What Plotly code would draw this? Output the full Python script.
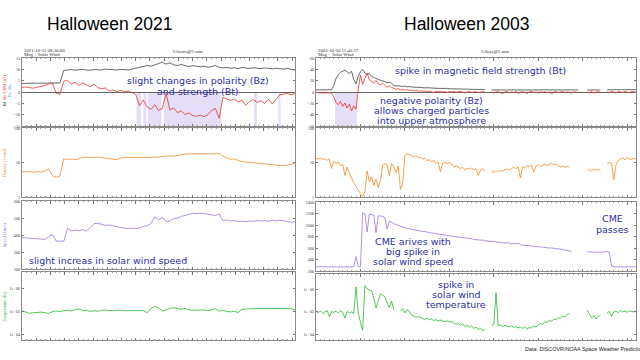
import plotly.graph_objects as go
import numpy as np

W, H = 640, 360

# ---------------- Halloween 2021 (minutes after 2021-10-31 08:30, 5-min samples)
bt_2021 = [3.9, 3.9, 3.8, 3.9, 4.0, 3.9, 3.8, 3.9, 4.0, 4.0, 4.1,
           9.6, 9.8, 10.0, 9.7, 9.9, 10.1, 9.8, 9.7, 10.0, 9.9, 9.8, 10.2, 10.0, 9.9, 9.8,
           10.1, 10.0, 9.8, 10.2, 10.6, 10.9, 11.3, 11.8, 11.5, 12.0, 12.6, 13.2, 12.4, 12.9,
           12.1, 11.8, 12.2, 11.6, 11.3, 11.7, 11.4, 11.2, 11.5, 11.0, 11.3, 11.8, 11.0, 10.7,
           10.9, 10.6, 10.8, 10.4, 10.9, 10.6, 10.5, 10.8, 10.6, 10.4, 10.7, 10.5, 10.3, 10.6,
           10.4, 10.2, 10.5, 10.1, 9.7]
bz_2021 = [2.1, 2.3, 2.0, 1.8, 2.2, 2.4, 2.9, 3.6, 4.2, -0.5, -0.9, 4.8, 5.2, 3.6, 4.4,
           3.0, 4.1, 3.3, 2.4, 3.5, 2.0, 1.5, 1.9, 0.6, 1.0, 0.2, 0.8, 0.3, 0.5, -0.2, -1.0,
           -5.8, -3.5, -6.4, -7.6, -5.5, -8.0, -7.2, -0.5, -7.8, -6.9, -9.0, -8.2, -9.8, -9.1,
           -10.3, -10.6, -10.1, -10.8, -9.9, -8.0, -7.1, -11.5, -2.3, -2.8, -3.6, -3.0, -4.2,
           -3.5, -5.8, -4.0, -3.2, -4.5, -3.8, -4.9, -3.1, -5.2, -3.4, -1.2, -0.8, -0.5, -1.1, -0.6]
dens_2021 = [5.5, 5.4, 5.6, 5.3, 5.5, 5.4, 5.6, 6.6, 4.2, 3.8, 4.1, 12.9, 12.5, 12.8, 12.4,
             12.9, 14.4, 14.2, 14.5, 14.3, 14.6, 14.2, 13.9, 13.2, 12.5, 12.2, 13.8, 14.1,
             14.3, 14.0, 14.4, 14.2, 14.5, 14.1, 14.6, 14.3, 14.8, 15.2, 15.6, 15.9, 15.4,
             16.3, 17.2, 17.8, 18.1, 17.9, 18.3, 17.8, 18.0, 18.2, 17.9, 18.1, 19.0, 15.2,
             13.8, 12.6, 12.9, 11.5, 10.8, 10.5, 10.2, 9.9, 9.6, 9.4, 9.1, 8.9, 8.6, 8.3, 8.4,
             8.2, 8.5, 9.2, 9.8]
speed_2021 = [386, 384, 381, 380, 378, 377, 375, 392, 405, 366, 363, 364, 440, 425, 430,
              428, 433, 425, 445, 468, 470, 462, 458, 460, 455, 450, 444, 441, 440, 442, 438,
              442, 452, 455, 468, 508, 490, 506, 480, 484, 498, 501, 510, 517, 524, 529, 526,
              530, 527, 523, 518, 516, 525, 486, 490, 484, 486, 481, 483, 479, 485, 481, 487,
              483, 486, 482, 488, 484, 489, 486, 480, 476, 479]
temp_2021 = [102000, 88000, 80000, 84000, 86000, 90000, 85000, 78000, 94000, 100000, 96000,
             104000, 110000, 98000, 115000, 124000, 104000, 108000, 96000, 102000, 98000,
             106000, 112000, 104000, 108000, 113000, 110000, 104000, 103000, 105000, 102000,
             106000, 104000, 85000, 128000, 160000, 138000, 98000, 115000, 130000, 140000,
             126000, 118000, 132000, 112000, 108000, 110000, 106000, 112000, 104000, 110000,
             128000, 100000, 107000, 95000, 92000, 98000, 86000, 118000, 122000, 127000,
             128000, 127000, 129000, 128000, 129000, 128000, 127000, 129000, 128000, 130000,
             126000, 112000]
neg_bz_2021 = [(151, 157), (160, 164), (166, 184), (187, 263), (306, 310), (338, 341)]

# ---------------- Halloween 2003 (hours after 2003-10-30 11:41, 0.5-h samples)
bt_2003 = [4.2, 4.0, 4.3, 4.1, 4.4, 4.2, 4.5, 4.3,
           12, 24, 31, 35,
           37, 39, 36, 33, 37,
           22, 15, 28,
           36, 40, 34,
           31, 33,
           28, 26, 24, 22, 21, 20,
           18, 17, 17.5, 16,
           12, 11, 11.5, 10.5, 10, 10.8, 9.5, 9.8, 9.2, 9.0, 8.6, 8.8, 8.2,
           7.8, 7.6, 7.9, 7.4, 7.2, 7.5, 7.0, 6.8, 7.1, 6.6, 6.4, 6.7, 6.2, 6.0, 6.3, 5.8,
           5.6, 5.9, 5.4, 5.3, 5.5, 5.1, 5.0, 5.2, 4.9, 4.8, 5.0, 4.7, 4.6,
           None, None,
           4.1, 4.3, 3.9, 4.2, 4.0, 4.4, 4.1, 3.8, 4.2, 4.0, 4.3, 3.9, 4.1, 4.2, 4.0, 3.8,
           4.1, 4.3, 4.0, 3.9, 4.2, 4.1, 3.9, 4.0, 4.2, 4.4, 4.1, 3.9, 4.0, 4.2, 4.3, 4.1,
           3.8, 4.0, 4.2, 4.1, 3.9, 4.0, 4.3, 4.1,
           None, None, None,
           4.0, 4.2, 4.4, 4.1, 3.9, 4.2, 4.0,
           None, None,
           4.3, 4.5, 4.2, 4.6, 4.4, 4.7, 4.5, 4.3, 4.6, 4.8, 4.5, 4.4, 4.6, 4.5]
bz_2003 = [-0.5, -1.0, -0.8, -1.5, -1.2, -0.6, -1.0, -2.0,
           -8, -18, -22, -16,
           -25, -19, -28, -21, -33,
           -24, -30, 5,
           30, 14, 24,
           34, 22,
           19, 16, 21, 15, 13, 16,
           12, 9, 11, 8,
           7, 5, 6.5, 4, 5.5, 3.5, 4.5, 2.8, 3.6, 2.2, 3.2, 1.8, 2.6,
           1.5, 2.4, 0.8, 1.9, 1.2, -0.5, 1.6, 0.9, 2.0, 0.5, 1.4, -0.8, 1.1, 0.6, 1.8, -0.3,
           0.9, 1.5, 0.2, -1.2, 0.8, 1.3, -0.4, 0.6, 1.0, -0.9, 0.4, 1.2, -0.2,
           None, None,
           0.8, -1.5, 0.5, 1.2, -0.8, -2.5, 0.4, 1.0, -1.2, 0.6, -0.4, 1.1, -1.8, 0.3, 0.9,
           -0.6, -2.2, 0.7, 1.3, -0.5, 0.2, -1.4, 0.8, -0.3, 1.0, -1.1, 0.5, -2.8, 0.3, 0.9,
           -0.7, 0.4, 1.2, -1.0, 0.6, -0.2, -1.6, 0.8, 0.3, -0.5,
           None, None, None,
           0.5, -0.8, 1.2, -1.5, 0.4, 0.9, -0.3,
           None, None,
           1.0, -0.6, 1.5, 0.8, -1.2, 1.3, 0.4, -0.5, 1.1, 0.7, -0.9, 1.4, 0.6, 0.2]
dens_2003 = [13.5, 12.8, 13.9, 12.4, 13.2, 11.8, 12.6, 6.8,
             11.0, 9.5, 10.6, 8.2,
             9.0, 4.3, 7.5, 5.0, 3.6,
             2.6, 2.0, 1.6,
             1.3, 1.05, 1.4,
             5.8, 2.8,
             3.9, 2.2, 3.4, 1.9, 3.0, 8.5,
             9.4, 8.8, 4.2, 9.6,
             7.8, 5.2, 8.0, 1.7, 2.4, 16.5, 18.2, 17.0, 15.4, 14.8, 15.6, 13.9, 14.5,
             12.8, 13.5, 11.6, 12.2, 10.9, 11.5, 9.6, 10.4, 5.4, 9.8, 10.2, 9.5, 10.0, 9.2,
             7.6, 8.1, 7.2, 6.8, 7.4, 6.2, 6.9, 6.5, 7.0, 6.3, 6.7, 4.3, 6.1, 6.6, 5.9,
             None, None,
             5.6, 5.3, 5.8, 5.5, 6.0, 5.7, 6.2, 6.6, 6.1, 6.9, 7.3, 6.8, 7.5, 3.6, 7.8, 7.1,
             8.2, 7.6, 8.4, 5.4, 8.0, 8.8, 7.7, 8.5, 9.2, 8.3, 8.9, 9.6, 8.7, 9.3, 8.1, 7.6,
             8.4, 7.2, 7.9, 7.4,
             None, None, None, None,
             None, None, None,
             6.0, 6.3, 5.8, 6.5, 6.1, 6.4, 5.9,
             None, None,
             9.5, 10.2, 9.8, 3.2, 8.6, 11.5, 12.8, 13.6, 12.2, 14.1, 13.0, 12.4, 13.5, 12.9]
speed_2003 = [275, 278, 272, 276, 280, 274, 277, 273, 279, 276, 271, 275, 278, 274, 277,
              273, 276, 280,
              455,
              280, 276,
              1215, 1205, 880, 1190, 1180,
              1175, 870, 1165, 1160, 1152, 1130, 930,
              1070, 1045, 1030, 1012, 995, 980, 968, 955, 945, 935, 928, 920, 912, 905, 898,
              892, 880, 881, 870, 868, 857, 855, 846, 843, 831, 830, 824, 812, 815, 803, 799,
              795, 784, 786, 774, 772, 763, 765, 752, 755, 746, 739, 742, 731, 726, 728, 716,
              719, 710, 703, 706, 697, 690, 694, 684, 680, 683, 672, 690,
              662, 651, 653, 644, 646, 636, 639, 628, 630, 621, 619, 612, 614, 603, 606, 596,
              590, 592, 582, 575, 569, 560, 553, 544,
              None, None, None, None, None, None,
              538, 534, 536, 531, 529, 533, 527, 530, 545, 540, 530,
              290, 278, 274, 276, 272, 275, 273, 277, 274, 276, 272, 275]
temp_2003 = [105000, 92000, 110000, 85000, 98000, 115000, 60000, 102000, 95000, 108000,
             88000, 112000, 97000, 54000, 104000, 90000, 100000, 86000,
             1300000,
             90000, 35000, 15000,
             1500000, 1100000, 950000, 880000,
             420000, 150000, 310000,
             620000, 560000, 480000,
             250000, 160000, 300000, 120000,
             None, None,
             110000, 140000, 90000, 125000, 105000,
             72000, 65000, 58000, 62000, 55000,
             50000, 46000, 52000, 44000, 48000, 41000, 45000, 39000, 43000, 38000, 36000,
             40000, 35000, 37000,
             32000, 28000, 30000, 25000, 29000, 22000, 26000, 20000, 24000, 18000, 21000,
             16000, 19000, 14000, 17000,
             None, None,
             25000, 27000, 720000, 24000, 26000, 22000, 25000, 23000, 21000, 24000, 20000,
             22000, 19000,
             21000, 18000, 22000, 17000, 20000, 19000, 23000, 21000, 26000,
             30000, 28000, 36000, 33000, 42000, 38000, 48000, 45000, 55000, 52000, 64000,
             60000, 78000, 85000,
             None, None, None, None, None, None, None,
             120000, 75000, 55000, 68000, 48000, 62000, 70000,
             None, None,
             90000, 105000, 62000, 98000, 110000, 92000, 115000, 100000, 108000, 95000,
             112000, 104000, 99000, 106000]
neg_bz_2003 = [(4.3, 9.2)]

# ---------------- styling
C_BT = "#2a2a2a"
C_BZ = "#e8352f"
C_DEN = "#f28a24"
C_SPD = "#a074e0"
C_TMP = "#2fb52f"
C_SHADE = "#e6def6"
C_NOTE = "#2e2ea6"
AX = "#8a8a8a"


def px(x):
    return x / W


def py(y):
    return 1 - y / H


col_dom = [[px(22), px(295)], [px(316), px(636)]]
row_px = [[(57, 126), (128, 198), (202, 271), (274, 343)],
          [(57, 126), (128, 198), (203, 273), (276, 343)]]

fig = go.Figure()
layout = dict(width=W, height=H, margin=dict(l=0, r=0, t=0, b=0),
              paper_bgcolor="white", plot_bgcolor="white", showlegend=False)

t21 = np.arange(len(bt_2021)) * 5.0
t03 = np.arange(len(bt_2003)) * 0.5

yspecs = [
    # left column
    dict(range=[-15, 15], tickvals=[-15, -10, -5, 0, 5, 10, 15], type="linear", zero=True),
    dict(range=[0, 2], tickvals=[1, 10, 100], type="log", zero=False),
    dict(range=[200, 600], tickvals=[200, 300, 400, 500, 600], type="linear", zero=False),
    dict(range=[3.73, 6.69], tickvals=[1e4, 1e5, 1e6], ticktext=["1e+04", "1e+05", "1e+06"],
         type="log", zero=False),
    # right column
    dict(range=[-60, 60], tickvals=[-60, -40, -20, 0, 20, 40, 60], type="linear", zero=True),
    dict(range=[0, 2], tickvals=[1, 10, 100], type="log", zero=False),
    dict(range=[200, 1400], tickvals=[200, 400, 600, 800, 1000, 1200, 1400], type="linear", zero=False),
    dict(range=[3.73, 6.69], tickvals=[1e4, 1e5, 1e6], ticktext=["1e+04", "1e+05", "1e+06"],
         type="log", zero=False),
]

for k in range(8):
    col = k // 4
    row = k % 4
    n = k + 1
    xa = "xaxis" if n == 1 else f"xaxis{n}"
    ya = "yaxis" if n == 1 else f"yaxis{n}"
    top, bot = row_px[col][row]
    if col == 0:
        xr, dt, mdt = [0, 360], 18.75, 6.25
    else:
        xr, dt, mdt = [0, 72], 10, 1
    layout[xa] = dict(domain=col_dom[col], anchor=f"y{n}", range=xr, showticklabels=False,
                      ticks="inside", ticklen=2.5, tickwidth=0.6, tickcolor="#777",
                      tick0=0, dtick=dt, mirror="allticks", showline=True, linecolor=AX,
                      linewidth=0.8, showgrid=False, zeroline=False,
                      minor=dict(ticks="inside", ticklen=1.3, dtick=mdt, tickcolor="#999",
                                 tickwidth=0.5, showgrid=False))
    s = yspecs[k]
    yd = dict(domain=[py(bot), py(top)], anchor=f"x{n}", range=s["range"], type=s["type"],
              tickvals=s["tickvals"], ticks="inside", ticklen=2, tickwidth=0.6,
              tickcolor="#777", mirror="allticks", showline=True, linecolor=AX,
              linewidth=0.8, showgrid=False,
              tickfont=dict(family="Liberation Serif", size=4.3, color="#444"),
              zeroline=s["zero"], zerolinecolor="#666", zerolinewidth=0.7)
    if "ticktext" in s:
        yd["ticktext"] = s["ticktext"]
    layout[ya] = yd

# shading for negative Bz
shapes = []
for a, b in neg_bz_2021:
    shapes.append(dict(type="rect", xref="x", yref="y", x0=a, x1=b, y0=-15, y1=0,
                       fillcolor=C_SHADE, line=dict(width=0), layer="below"))
for a, b in neg_bz_2003:
    shapes.append(dict(type="rect", xref="x5", yref="y5", x0=a, x1=b, y0=-60, y1=0,
                       fillcolor=C_SHADE, line=dict(width=0), layer="below"))
layout["shapes"] = shapes


def line(x, y, color, n, w=0.8):
    fig.add_trace(go.Scatter(x=x, y=y, mode="lines", line=dict(color=color, width=w),
                             xaxis=f"x{n}", yaxis=f"y{n}", connectgaps=False,
                             hoverinfo="skip"))


line(t21, bt_2021, C_BT, 1, 0.7)
line(t21, bz_2021, C_BZ, 1)
line(t21, dens_2021, C_DEN, 2)
line(t21, speed_2021, C_SPD, 3)
line(t21, temp_2021, C_TMP, 4)
line(t03, bt_2003, C_BT, 5, 0.7)
line(t03, bz_2003, C_BZ, 5)
line(t03, dens_2003, C_DEN, 6)
line(t03, speed_2003, C_SPD, 7)
line(t03, temp_2003, C_TMP, 8)

ann = []


def text(x, y, s, size, color="#000", family="Liberation Sans", xanchor="center", angle=0):
    ann.append(dict(x=px(x), y=py(y), xref="paper", yref="paper", text=s, showarrow=False,
                    font=dict(family=family, size=size, color=color), xanchor=xanchor,
                    yanchor="middle", textangle=angle))


# titles
text(110, 22, "Halloween 2021", 17.5)
text(467, 22, "Halloween 2003", 17.5)

# panel headers
text(22, 49, "2021-10-31 08:30:00", 4.8, "#333", "Liberation Serif", "left")
text(22, 53.5, "Mag + Solar Wind", 4.8, "#333", "Liberation Serif", "left")
text(188, 50, "6 hours@1 min", 4.8, "#333", "Liberation Serif")
text(316, 49, "2003-10-30 11:41:27", 4.8, "#333", "Liberation Serif", "left")
text(316, 53.5, "Mag + Solar Wind", 4.8, "#333", "Liberation Serif", "left")
text(495, 50, "3 days@3 min", 4.8, "#333", "Liberation Serif")

# y-axis titles (left column)
text(4.5, 90, "<span style='color:#111'>Bt</span>  <span style='color:#e8352f'>Bz GSM (nT)</span>",
     4.5, C_BZ, "Liberation Serif", angle=-90)
text(9.5, 90, "<span style='color:#4aa8e8'>Bx  By</span>", 4.5, "#4aa8e8", "Liberation Serif", angle=-90)
text(4.5, 163, "Density (1/cm³)", 4.5, C_DEN, "Liberation Serif", angle=-90)
text(4.5, 237, "Speed (km/s)", 4.5, C_SPD, "Liberation Serif", angle=-90)
text(4.5, 309, "Temperature (K)", 4.5, C_TMP, "Liberation Serif", angle=-90)

# hand-written notes
NF = "DejaVu Sans"
NS = 9.5
text(198, 79.5, "slight changes in polarity (Bz)", NS, C_NOTE, NF)
text(198, 90.5, "and strength (Bt)", NS, C_NOTE, NF)
text(27, 262, "slight increas in solar wind speed", NS, C_NOTE, NF, "left")
text(480, 69, "spike in magnetic field strength (Bt)", NS, C_NOTE, NF)
text(431, 99.5, "negative polarity (Bz)", NS, C_NOTE, NF)
text(431, 110, "allows charged particles", NS, C_NOTE, NF)
text(431, 120.5, "into upper atmosphere", NS, C_NOTE, NF)
text(413, 242.5, "CME arives with", NS, C_NOTE, NF)
text(413, 253, "big spike in", NS, C_NOTE, NF)
text(413, 263.5, "solar wind speed", NS, C_NOTE, NF)
text(612, 219.5, "CME", NS, C_NOTE, NF)
text(612, 231, "passes", NS, C_NOTE, NF)
text(456, 286, "spike in", NS, C_NOTE, NF)
text(456, 296.5, "solar wind", NS, C_NOTE, NF)
text(456, 307, "temperature", NS, C_NOTE, NF)

# data credit
text(523, 352, "Data: DISCOVR/NOAA Space Weather Prediction Center", 5.4, "#222",
     "Liberation Sans", "left")

layout["annotations"] = ann
fig.update_layout(**layout)
fig.write_html("out.html")
